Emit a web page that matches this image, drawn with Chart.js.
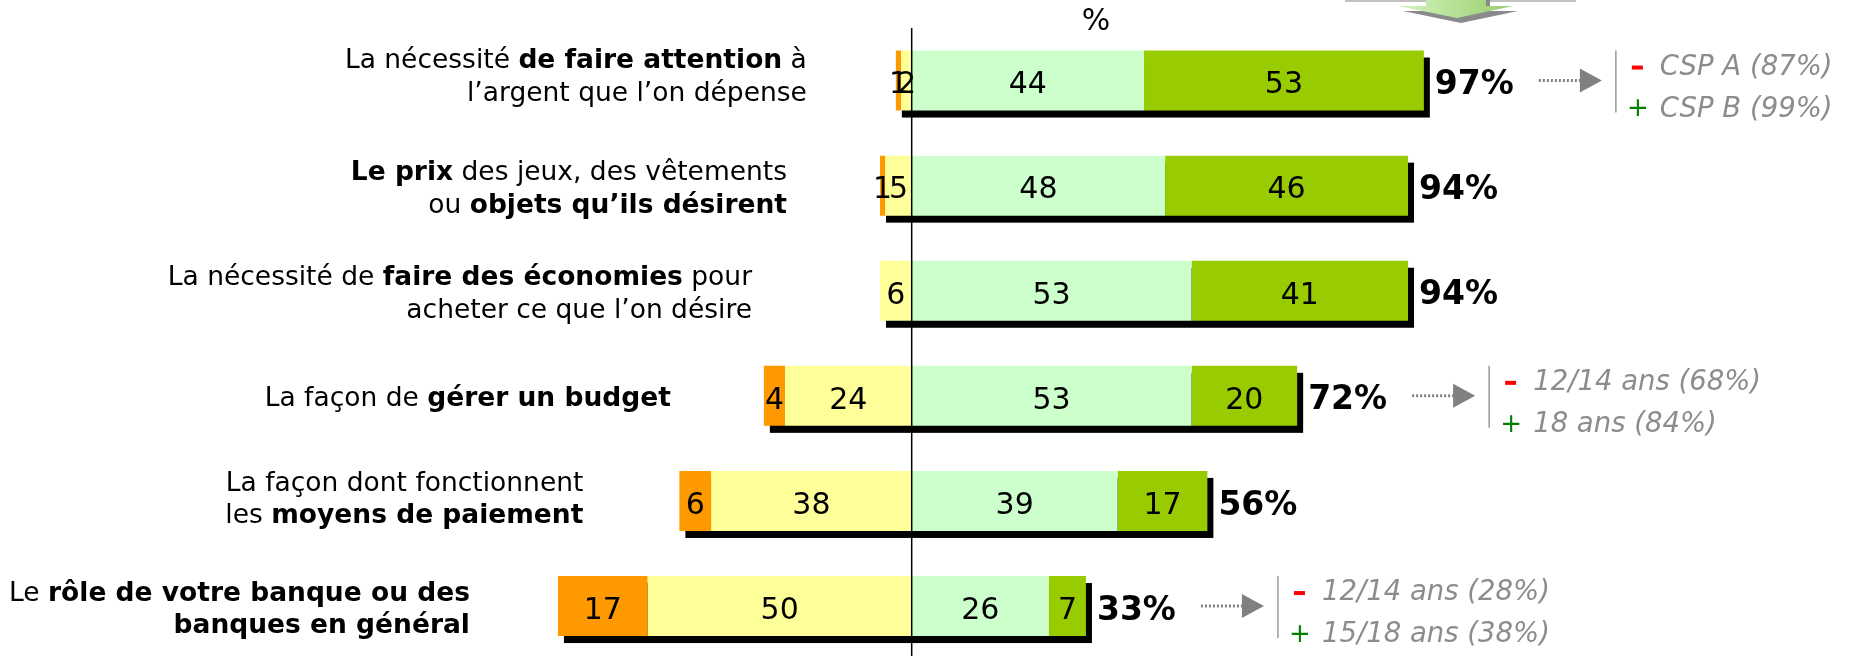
<!DOCTYPE html>
<html lang="fr">
<head>
<meta charset="utf-8">
<title>Connaissances financières</title>
<script src="https://cdn.jsdelivr.net/npm/chart.js@4.4.1/dist/chart.umd.min.js"></script>
<style>
  html, body { margin: 0; padding: 0; background: #fff; overflow: hidden; }
  #wrap { position: relative; width: 1861px; height: 662px; }
</style>
</head>
<body>
<div id="wrap"><canvas id="chart"></canvas></div>
<script>
// Libellés des items (** = gras, \n = retour à la ligne)
const categories = [
  "La nécessité **de faire attention** à\nl’argent que l’on dépense",
  "**Le prix** des jeux, des vêtements\nou **objets qu’ils désirent**",
  "La nécessité de **faire des économies** pour\nacheter ce que l’on désire",
  "La façon de **gérer un budget**",
  "La façon dont fonctionnent\nles **moyens de paiement**",
  "Le **rôle de votre banque ou des**\n**banques en général**"
];

// Réponses en %
const pasDuTout = [1, 1, 0, 4, 6, 17];
const plutotPas = [2, 5, 6, 24, 38, 50];
const plutot = [44, 48, 53, 53, 39, 26];
const toutAFait = [53, 46, 41, 20, 17, 7];
const totalImportant = [97, 94, 94, 72, 56, 33];

// Écarts significatifs par sous-population
const noteMoins = ["CSP A (87%)", null, null, "12/14 ans (68%)", null, "12/14 ans (28%)"];
const notePlus = ["CSP B (99%)", null, null, "18 ans (84%)", null, "15/18 ans (38%)"];

// Mise en page des libellés (distance à la barre, décalage vertical)
const labelGap = [89, 93, 128, 93, 96, 88];
const labelDy = [-3, 4, 4, 3, -1, 4];

const FONT = '"DejaVu Sans", Verdana, sans-serif';

// Texte avec parties en gras, aligné à droite
function drawRich(ctx, line, rightX, y, size) {
  const parts = line.split('**');
  let width = 0;
  parts.forEach((p, k) => {
    ctx.font = (k % 2 ? 'bold ' : '') + size + 'px ' + FONT;
    width += ctx.measureText(p).width;
  });
  let x = rightX - width;
  parts.forEach((p, k) => {
    ctx.font = (k % 2 ? 'bold ' : '') + size + 'px ' + FONT;
    ctx.fillText(p, x, y);
    x += ctx.measureText(p).width;
  });
}

const habillage = {
  id: 'habillage',
  beforeDatasetsDraw(chart) {
    // Ombre noire sous chaque barre
    const ctx = chart.ctx;
    const xs = chart.scales.x;
    ctx.save();
    ctx.fillStyle = '#000';
    chart.getDatasetMeta(0).data.forEach((bar, i) => {
      const left = xs.getPixelForValue(-(pasDuTout[i] + plutotPas[i]));
      const right = xs.getPixelForValue(plutot[i] + toutAFait[i]);
      ctx.fillRect(left + 6, bar.y - bar.height / 2 + 7, right - left, bar.height);
    });
    ctx.restore();
  },
  afterDatasetsDraw(chart) {
    const ctx = chart.ctx;
    const xs = chart.scales.x;
    const area = chart.chartArea;
    ctx.save();

    // Valeurs dans les segments
    ctx.fillStyle = '#000';
    ctx.textAlign = 'center';
    ctx.textBaseline = 'middle';
    ctx.font = '30px ' + FONT;
    chart.data.datasets.forEach((ds, d) => {
      chart.getDatasetMeta(d).data.forEach((bar, i) => {
        const v = Math.abs(ds.data[i]);
        if (v > 0) ctx.fillText(String(v), (bar.x + bar.base) / 2, bar.y + 5);
      });
    });

    // Axe du zéro
    const x0 = xs.getPixelForValue(0);
    ctx.strokeStyle = '#000';
    ctx.lineWidth = 1.5;
    ctx.beginPath();
    ctx.moveTo(x0, area.top);
    ctx.lineTo(x0, chart.height);
    ctx.stroke();

    chart.getDatasetMeta(0).data.forEach((bar, i) => {
      const yc = bar.y;
      const left = xs.getPixelForValue(-(pasDuTout[i] + plutotPas[i]));
      const right = xs.getPixelForValue(plutot[i] + toutAFait[i]);

      // Libellé de l'item
      ctx.fillStyle = '#000';
      ctx.textAlign = 'left';
      ctx.textBaseline = 'middle';
      const lines = categories[i].split('\n');
      const lh = 32.5;
      lines.forEach((ln, k) => {
        const ly = yc + labelDy[i] + (k - (lines.length - 1) / 2) * lh;
        drawRich(ctx, ln, left - labelGap[i], ly, 26.5);
      });

      // Total "important"
      ctx.font = 'bold 33px ' + FONT;
      ctx.fillText(totalImportant[i] + '%', right + 11, yc + 5);

      // Flèche + écarts par cible
      if (noteMoins[i]) {
        const a0 = right + 115;
        ctx.strokeStyle = '#808080';
        ctx.lineWidth = 3;
        ctx.setLineDash([2, 2]);
        ctx.beginPath();
        ctx.moveTo(a0, yc);
        ctx.lineTo(a0 + 42, yc);
        ctx.stroke();
        ctx.setLineDash([]);
        ctx.fillStyle = '#808080';
        ctx.beginPath();
        ctx.moveTo(a0 + 41, yc - 12);
        ctx.lineTo(a0 + 63, yc);
        ctx.lineTo(a0 + 41, yc + 12);
        ctx.closePath();
        ctx.fill();

        const vx = right + 192;
        ctx.strokeStyle = '#999';
        ctx.lineWidth = 1.5;
        ctx.beginPath();
        ctx.moveTo(vx, yc - bar.height / 2);
        ctx.lineTo(vx, yc + bar.height / 2 + 2);
        ctx.stroke();

        const y1 = yc - 13, y2 = yc + 29;
        ctx.fillStyle = '#ff0000';
        ctx.fillRect(vx + 16, y1 - 2, 11, 4);
        ctx.fillStyle = '#008000';
        ctx.textAlign = 'center';
        ctx.font = '26px ' + FONT;
        ctx.fillText('+', vx + 22, y2);
        ctx.fillStyle = '#8c8c8c';
        ctx.textAlign = 'left';
        ctx.font = 'italic 27.5px ' + FONT;
        ctx.fillText(noteMoins[i], vx + 44, y1);
        ctx.fillText(notePlus[i], vx + 44, y2);
      }
    });
    ctx.restore();
  },
  afterDraw(chart) {
    const ctx = chart.ctx;
    ctx.save();
    // Unité
    ctx.fillStyle = '#000';
    ctx.textAlign = 'center';
    ctx.textBaseline = 'middle';
    ctx.font = '30px ' + FONT;
    ctx.fillText('%', 1096, 22);

    // Morceau du cadre et de la flèche verte du haut de la diapo
    ctx.strokeStyle = '#c0c0c0';
    ctx.lineWidth = 2;
    ctx.beginPath();
    ctx.moveTo(1345, 1); ctx.lineTo(1426, 1);
    ctx.moveTo(1490, 1); ctx.lineTo(1576, 1);
    ctx.stroke();
    ctx.fillStyle = '#8a8a8a';
    ctx.fillRect(1486, 0, 4, 10);
    ctx.beginPath();
    ctx.moveTo(1403, 11); ctx.lineTo(1518, 11); ctx.lineTo(1461, 23);
    ctx.closePath();
    ctx.fill();
    const g = ctx.createLinearGradient(1398, 0, 1513, 0);
    g.addColorStop(0, '#d4f5c0');
    g.addColorStop(1, '#98cc6c');
    ctx.fillStyle = g;
    ctx.fillRect(1426, 0, 60, 7);
    ctx.beginPath();
    ctx.moveTo(1398, 6); ctx.lineTo(1513, 6); ctx.lineTo(1457, 18);
    ctx.closePath();
    ctx.fill();
    ctx.restore();
  }
};

const ctx = document.getElementById('chart').getContext('2d');
new Chart(ctx, {
  type: 'bar',
  data: {
    labels: categories,
    datasets: [
      { label: 'Plutôt pas', data: plutotPas.map(v => -v), backgroundColor: '#ffff99' },
      { label: 'Pas du tout', data: pasDuTout.map(v => -v), backgroundColor: '#ff9900' },
      { label: 'Plutôt', data: plutot, backgroundColor: '#ccffcc' },
      { label: 'Tout à fait', data: toutAFait, backgroundColor: '#99cc00' }
    ]
  },
  options: {
    indexAxis: 'y',
    responsive: true,
    maintainAspectRatio: false,
    animation: false,
    layout: { padding: { left: 383.7, right: 421.3, top: 28, bottom: 3.4 } },
    datasets: { bar: { categoryPercentage: 1, barPercentage: 0.571 } },
    scales: {
      x: { stacked: true, min: -100, max: 100, display: false },
      y: { stacked: true, display: false }
    },
    plugins: { legend: { display: false }, tooltip: { enabled: false } },
    events: []
  },
  plugins: [habillage]
});
</script>
</body>
</html>
